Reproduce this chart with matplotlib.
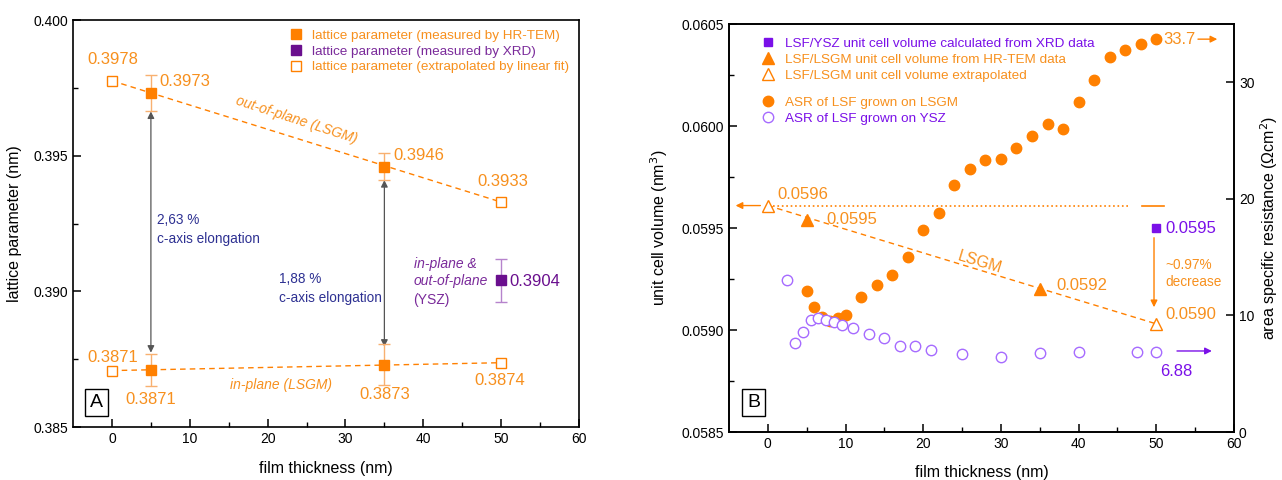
import matplotlib

matplotlib.use("Agg")
import matplotlib.pyplot as plt  # noqa: E402
from matplotlib.lines import Line2D  # noqa: E402

plt.rcParams["font.family"] = ["Liberation Sans", "DejaVu Sans"]

# ---- panel A data: lattice parameter vs film thickness ----
tem_x = [5, 35]
tem_out = [0.3973, 0.3946]
tem_out_err = [0.00067, 0.0005]
tem_in = [0.3871, 0.3873]
tem_in_err = [0.0006, 0.00075]
fit_x = [0, 50]
fit_out = [0.39776, 0.39329]
fit_in = [0.38708, 0.38737]
xrd_x = [50]
xrd_val = [0.3904]
xrd_err = [0.0008]

# ---- panel B data: unit cell volume and ASR ----
vol_tem_x = [5, 35]
vol_tem = [0.05954, 0.05920]
vol_fit_x = [0, 50]
vol_fit = [0.05961, 0.05903]
vol_xrd_x = [50]
vol_xrd = [0.05950]

asr_lsgm_x = [5, 6, 7, 8, 9, 10, 12, 14, 16, 18, 20, 22, 24, 26, 28, 30, 32, 34,
              36, 38, 40, 42, 44, 46, 48, 50]
asr_lsgm = [12.1, 10.7, 9.9, 9.5, 9.8, 10.0, 11.6, 12.6, 13.5, 15.0, 17.3, 18.8,
            21.2, 22.6, 23.3, 23.4, 24.4, 25.4, 26.4, 26.0, 28.3, 30.2, 32.2, 32.8,
            33.3, 33.7]
asr_ysz_x = [2.5, 3.5, 4.5, 5.5, 6.5, 7.5, 8.5, 9.5, 11, 13, 15, 17, 19, 21, 25,
             30, 35, 40, 47.5, 50]
asr_ysz = [13.0, 7.6, 8.6, 9.6, 9.8, 9.6, 9.4, 9.2, 8.9, 8.4, 8.1, 7.4, 7.4, 7.0,
           6.7, 6.4, 6.75, 6.9, 6.9, 6.88]

ORANGE = "#FF8000"
ORANGE_T = "#F7901E"
ORANGE_E = "#F8B070"
PURPLE_A = "#6A0F8E"
PURPLE_AT = "#7A2A9A"
VIOLET = "#7A10E8"
VIOLET_C = "#A66BFF"
NAVY = "#2E3192"

fig = plt.figure(figsize=(12.82, 4.8), dpi=100)
axA = fig.add_axes([0.057, 0.1104, 0.3946, 0.8479])
axB = fig.add_axes([0.5686, 0.10, 0.394, 0.85])


def style_axis(ax):
    for s in ax.spines.values():
        s.set_linewidth(1.2)
    ax.tick_params(which="major", direction="in", length=6, width=1.1, labelsize=10)
    ax.tick_params(which="minor", direction="in", length=3.5, width=1.0)
    ax.tick_params(top=False, right=False, which="both")


# ================= panel A =================
style_axis(axA)
axA.set_xlim(-5, 60)
axA.set_ylim(0.385, 0.400)
axA.set_xticks(range(0, 61, 10))
axA.set_xticks(range(5, 60, 10), minor=True)
axA.set_yticks([0.385, 0.390, 0.395, 0.400])
axA.set_yticks([0.3875, 0.3925, 0.3975], minor=True)
axA.set_yticklabels(["0.385", "0.390", "0.395", "0.400"])
axA.set_xlabel("film thickness (nm)", fontsize=11.5, labelpad=11)
axA.set_ylabel("lattice parameter (nm)", fontsize=11.5, labelpad=8)

axA.plot(fit_x, fit_out, ls="--", color=ORANGE, lw=1, dashes=(4, 3))
axA.plot(fit_x, fit_in, ls="--", color=ORANGE, lw=1, dashes=(4, 3))
axA.plot(fit_x, fit_out, ls="none", marker="s", ms=7, mfc="white", mec=ORANGE, mew=1)
axA.plot(fit_x, fit_in, ls="none", marker="s", ms=7, mfc="white", mec=ORANGE, mew=1)
axA.errorbar(tem_x, tem_out, yerr=tem_out_err, fmt="s", ms=7, color=ORANGE,
             ecolor=ORANGE_E, elinewidth=1, capsize=4, zorder=4)
axA.errorbar(tem_x, tem_in, yerr=tem_in_err, fmt="s", ms=7, color=ORANGE,
             ecolor=ORANGE_E, elinewidth=1, capsize=4, zorder=4)
axA.errorbar(xrd_x, xrd_val, yerr=xrd_err, fmt="s", ms=7, color=PURPLE_A,
             ecolor="#B683CC", elinewidth=1, capsize=4, zorder=4)

arrow_kw = dict(arrowstyle="<|-|>", color="#555555", lw=0.9, mutation_scale=10,
                shrinkA=0, shrinkB=0)
axA.annotate("", xy=(5, 0.39663), xytext=(5, 0.38774), arrowprops=arrow_kw)
axA.annotate("", xy=(35, 0.39410), xytext=(35, 0.38796), arrowprops=arrow_kw)

lab = dict(color=ORANGE_T, fontsize=12, va="center", ha="left")
axA.text(-3.1, 0.39853, "0.3978", **lab)
axA.text(6.05, 0.39772, "0.3973", **lab)
axA.text(36.2, 0.39499, "0.3946", **lab)
axA.text(47.0, 0.39403, "0.3933", **lab)
axA.text(-3.2, 0.38758, "0.3871", **lab)
axA.text(1.7, 0.38600, "0.3871", **lab)
axA.text(31.8, 0.38618, "0.3873", **lab)
axA.text(46.6, 0.38673, "0.3874", **lab)
axA.text(51.1, 0.39038, "0.3904", color=PURPLE_A, fontsize=12, va="center", ha="left")

axA.text(5.8, 0.39228, "2,63 %\nc-axis elongation", color=NAVY, fontsize=9.8,
         va="center", ha="left", linespacing=1.5)
axA.text(21.4, 0.39011, "1,88 %\nc-axis elongation", color=NAVY, fontsize=9.8,
         va="center", ha="left", linespacing=1.5)
axA.text(38.75, 0.39069, "in-plane &\nout-of-plane", color=PURPLE_AT, fontsize=10,
         style="italic", va="center", ha="left", linespacing=1.3)
axA.text(38.75, 0.38968, "(YSZ)", color=PURPLE_AT, fontsize=10, va="center", ha="left")
axA.text(23.7, 0.39632, "out-of-plane (LSGM)", color=ORANGE_T, fontsize=10,
         style="italic", va="center", ha="center", rotation=-18)
axA.text(15.2, 0.38655, "in-plane (LSGM)", color=ORANGE_T, fontsize=10,
         style="italic", va="center", ha="left")
axA.text(0.046, 0.06, "A", transform=axA.transAxes, fontsize=14, ha="center",
         va="center", bbox=dict(boxstyle="square,pad=0.25", fc="white", ec="black", lw=1))

handlesA = [
    Line2D([], [], ls="none", marker="s", ms=7, color=ORANGE),
    Line2D([], [], ls="none", marker="s", ms=7, color=PURPLE_A),
    Line2D([], [], ls="none", marker="s", ms=7, mfc="white", mec=ORANGE),
]
labelsA = [
    "lattice parameter (measured by HR-TEM)",
    "lattice parameter (measured by XRD)",
    "lattice parameter (extrapolated by linear fit)",
]
legA = axA.legend(handlesA, labelsA, loc="upper right", bbox_to_anchor=(1.0, 1.0),
                  frameon=False, fontsize=9.7, handlelength=1, handletextpad=0.7,
                  labelspacing=0.25, borderaxespad=0.3)
for t, c in zip(legA.get_texts(), [ORANGE_T, PURPLE_AT, ORANGE_T]):
    t.set_color(c)

# ================= panel B =================
style_axis(axB)
axB.set_xlim(-5, 60)
axB.set_ylim(0.0585, 0.0605)
axB.set_xticks(range(0, 61, 10))
axB.set_xticks(range(5, 60, 10), minor=True)
axB.set_yticks([0.0585, 0.0590, 0.0595, 0.0600, 0.0605])
axB.set_yticks([0.05875, 0.05925, 0.05975, 0.06025], minor=True)
axB.set_yticklabels(["0.0585", "0.0590", "0.0595", "0.0600", "0.0605"])
axB.set_xlabel("film thickness (nm)", fontsize=11.5, labelpad=10)
axB.set_ylabel("unit cell volume (nm$^3$)", fontsize=11.5, labelpad=8)

ax2 = axB.twinx()
ax2.set_ylim(0, 35)
ax2.set_yticks([0, 10, 20, 30])
ax2.tick_params(which="major", direction="in", length=6, width=1.1, labelsize=10)
ax2.set_ylabel("area specific resistance (Ωcm$^2$)", fontsize=11.5, labelpad=3)
for s in ax2.spines.values():
    s.set_linewidth(1.2)

axB.plot(vol_fit_x, vol_fit, ls="--", color=ORANGE, lw=1, dashes=(4, 3))
axB.plot([0.7, 46.5], [vol_fit[0], vol_fit[0]], ls=":", color=ORANGE, lw=1.2)
axB.plot([48.1, 51.0], [vol_fit[0], vol_fit[0]], ls="-", color=ORANGE, lw=1.2)
axB.plot(vol_fit_x, vol_fit, ls="none", marker="^", ms=8, mfc="white", mec=ORANGE, mew=1)
axB.plot(vol_tem_x, vol_tem, ls="none", marker="^", ms=8, color=ORANGE)
axB.plot(vol_xrd_x, vol_xrd, ls="none", marker="s", ms=6, color=VIOLET)

axB.annotate("", xy=(-4.5, vol_fit[0]), xytext=(-0.6, vol_fit[0]),
             arrowprops=dict(arrowstyle="-|>", color=ORANGE, lw=1, mutation_scale=10))
axB.annotate("", xy=(49.7, 0.059098), xytext=(49.7, 0.059466),
             arrowprops=dict(arrowstyle="-|>", color=ORANGE, lw=1, mutation_scale=10))

ax2.plot(asr_lsgm_x, asr_lsgm, ls="none", marker="o", ms=7.5, color=ORANGE, zorder=3)
ax2.plot(asr_ysz_x, asr_ysz, ls="none", marker="o", ms=7.5, mfc="white", mec=VIOLET_C,
         mew=1, zorder=4)
ax2.annotate("", xy=(58.2, asr_lsgm[-1]), xytext=(55.0, asr_lsgm[-1]),
             arrowprops=dict(arrowstyle="-|>", color=ORANGE, lw=1, mutation_scale=10))
ax2.annotate("", xy=(57.5, 6.95), xytext=(52.3, 6.95),
             arrowprops=dict(arrowstyle="-|>", color=VIOLET, lw=1, mutation_scale=10))

labB = dict(color=ORANGE_T, fontsize=12, va="center", ha="left")
axB.text(1.2, 0.059662, "0.0596", **labB)
axB.text(7.6, 0.059544, "0.0595", **labB)
axB.text(37.1, 0.059220, "0.0592", **labB)
axB.text(51.1, 0.059074, "0.0590", **labB)
axB.text(51.2, 0.059500, "0.0595", color=VIOLET, fontsize=12, va="center", ha="left")
axB.text(51.1, 0.059277, "~0.97%\ndecrease", color=ORANGE_T, fontsize=9.8,
         va="center", ha="left", linespacing=1.3)
axB.text(27.3, 0.059333, "LSGM", color=ORANGE_T, fontsize=11.5, va="center",
         ha="center", rotation=-17)
ax2.text(50.9, 33.7, "33.7", color=ORANGE_T, fontsize=12, va="center", ha="left")
ax2.text(50.5, 5.2, "6.88", color=VIOLET, fontsize=12, va="center", ha="left")
axB.text(0.0485, 0.072, "B", transform=axB.transAxes, fontsize=14, ha="center",
         va="center", bbox=dict(boxstyle="square,pad=0.25", fc="white", ec="black", lw=1))

handlesB1 = [
    Line2D([], [], ls="none", marker="s", ms=6, color=VIOLET),
    Line2D([], [], ls="none", marker="^", ms=8, color=ORANGE),
    Line2D([], [], ls="none", marker="^", ms=8, mfc="white", mec=ORANGE),
]
labelsB1 = [
    "LSF/YSZ unit cell volume calculated from XRD data",
    "LSF/LSGM unit cell volume from HR-TEM data",
    "LSF/LSGM unit cell volume extrapolated",
]
handlesB2 = [
    Line2D([], [], ls="none", marker="o", ms=7.5, color=ORANGE),
    Line2D([], [], ls="none", marker="o", ms=7.5, mfc="white", mec=VIOLET_C),
]
labelsB2 = ["ASR of LSF grown on LSGM", "ASR of LSF grown on YSZ"]

legB1 = ax2.legend(handlesB1, labelsB1, loc="upper left", bbox_to_anchor=(0.045, 0.99),
                   frameon=False, fontsize=9.7, handlelength=1, handletextpad=0.8,
                   labelspacing=0.25, borderaxespad=0.3)
for t, c in zip(legB1.get_texts(), [VIOLET, ORANGE_T, ORANGE_T]):
    t.set_color(c)
ax2.add_artist(legB1)
legB2 = ax2.legend(handlesB2, labelsB2, loc="upper left", bbox_to_anchor=(0.045, 0.845),
                   frameon=False, fontsize=9.7, handlelength=1, handletextpad=0.8,
                   labelspacing=0.25, borderaxespad=0.3)
for t, c in zip(legB2.get_texts(), [ORANGE_T, VIOLET]):
    t.set_color(c)

fig.savefig("out.png", dpi=100)
plt.close(fig)
